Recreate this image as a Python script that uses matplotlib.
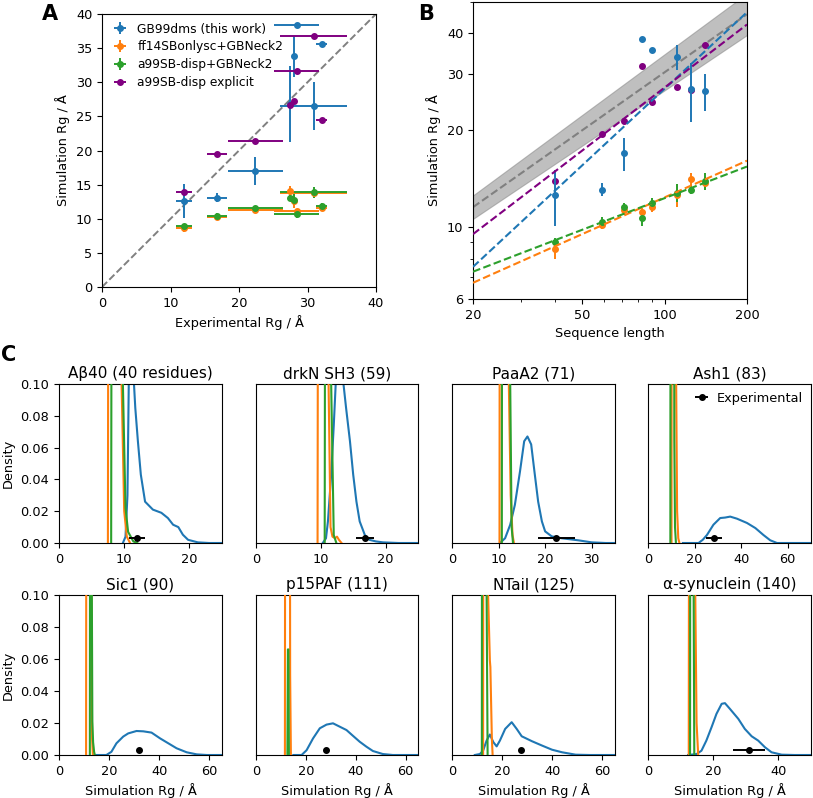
import numpy as np
import matplotlib
matplotlib.use("Agg")
import matplotlib.pyplot as plt
from matplotlib.ticker import NullFormatter, FixedLocator, ScalarFormatter, MultipleLocator

plt.rcParams['font.family'] = ['DejaVu Sans']
plt.rcParams['font.size'] = 9.3
plt.rcParams['axes.titlesize'] = 11

# ---------------- data ----------------
series_labels = ["GB99dms (this work)", "ff14SBonlysc+GBNeck2",
                 "a99SB-disp+GBNeck2", "a99SB-disp explicit"]
series_colors = ["#1f77b4", "#ff7f0e", "#2ca02c", "purple"]

proteins = ["Aβ40 (40 residues)", "drkN SH3 (59)", "PaaA2 (71)", "Ash1 (83)",
            "Sic1 (90)", "p15PAF (111)", "NTail (125)", "α-synuclein (140)"]
seq_len = [40, 59, 71, 83, 90, 111, 125, 140]
exp_rg = [12.0, 16.8, 22.4, 28.4, 32.1, 28.0, 27.5, 30.9]
exp_err = [1.2, 1.4, 4.0, 3.3, 0.8, 0.0, 0.0, 4.9]

gb99_rg = [12.6, 13.1, 17.0, 38.4, 35.6, 33.8, 26.8, 26.5]
gb99_err = [2.5, 0.6, 2.0, 0.3, 0.3, 3.0, 5.6, 3.5]
ff14_rg = [8.6, 10.2, 11.3, 11.2, 11.6, 12.6, 14.1, 13.7]
ff14_err = [0.6, 0.3, 0.4, 0.3, 0.4, 1.0, 0.7, 0.6]
a99_rg = [9.0, 10.4, 11.6, 10.7, 11.9, 12.8, 13.1, 13.9]
a99_err = [0.3, 0.4, 0.3, 0.6, 0.4, 0.8, 0.4, 0.8]
explicit_rg = [13.9, 19.5, 21.4, 31.7, 24.4, 27.2, 26.7, 36.8]

# power-law fits Rg = R0 * N**nu
fit_R0 = [0.709, 2.167, 2.746, 1.36]
fit_nu = [0.7895, 0.3786, 0.326, 0.650]
flory_R0 = 1.927
flory_nu = 0.598
flory_nu_err = 0.028

# ---- panel C densities (x in Å, density) ----
xlims_c = [25, 25, 35, 70, 65, 65, 65, 50]
exp_marker_y = 0.003

blue_x = [
    [9.8, 10.2, 10.5, 10.7, 11.1, 11.5, 11.7, 12.1, 12.55, 13.2, 14.4, 15.7, 16.7, 17.5, 18.3, 19.0, 19.8, 21.3, 23.0, 25.0],
    [10.3, 10.8, 11.1, 11.6, 12.0, 12.3, 12.9, 13.5, 13.9, 14.5, 15.0, 15.5, 16.0, 16.8, 17.5, 18.5, 19.6, 22.0, 25.0],
    [10.3, 11.4, 12.5, 13.5, 14.6, 15.5, 16.2, 17.0, 17.7, 18.5, 19.3, 20.0, 21.4, 23.5, 27.1, 30.0, 33.0, 35.0],
    [15.0, 21.7, 23.5, 25.3, 28.1, 31.0, 33.1, 35.3, 38.2, 42.5, 46.1, 49.6, 52.5, 55.4, 60.0, 70.0],
    [14.0, 18.9, 20.9, 22.9, 25.6, 27.6, 30.9, 33.6, 36.9, 40.3, 43.6, 46.9, 50.9, 54.9, 58.9, 65.0],
    [15.0, 18.3, 20.3, 22.9, 25.6, 28.3, 30.9, 33.6, 36.3, 38.9, 41.6, 44.3, 46.9, 50.9, 54.9, 65.0],
    [9.1, 11.1, 12.4, 13.8, 15.1, 16.5, 17.8, 19.1, 21.2, 23.8, 25.8, 27.8, 31.9, 35.9, 39.9, 43.9, 49.3, 55.0, 65.0],
    [12.3, 14.9, 16.4, 17.9, 19.5, 21.0, 22.6, 23.6, 25.1, 27.7, 29.7, 31.8, 33.8, 35.9, 37.9, 41.0, 45.0, 50.0],
]
blue_y = [
    [0, 0.004, 0.03, 0.1, 0.3, 0.1, 0.085, 0.064, 0.043, 0.026, 0.021, 0.019, 0.0157, 0.0115, 0.0100, 0.0052, 0.002, 0.0004, 0, 0],
    [0, 0.003, 0.0136, 0.043, 0.074, 0.1, 0.25, 0.1, 0.085, 0.064, 0.043, 0.026, 0.0136, 0.005, 0.002, 0.001, 0.0004, 0, 0],
    [0, 0.003, 0.0115, 0.024, 0.045, 0.064, 0.067, 0.062, 0.045, 0.026, 0.0136, 0.0073, 0.0042, 0.003, 0.0017, 0.0004, 0, 0],
    [0, 0, 0.002, 0.005, 0.0115, 0.0157, 0.016, 0.0166, 0.0153, 0.0126, 0.0094, 0.005, 0.0017, 0, 0, 0],
    [0, 0, 0.002, 0.0073, 0.0115, 0.0135, 0.015, 0.0148, 0.014, 0.0104, 0.0073, 0.0042, 0.0017, 0.0004, 0, 0],
    [0, 0, 0.003, 0.0104, 0.0167, 0.019, 0.0198, 0.0177, 0.0156, 0.012, 0.0083, 0.0052, 0.0025, 0.0006, 0, 0],
    [0, 0.0006, 0.0027, 0.009, 0.0128, 0.008, 0.0054, 0.009, 0.0163, 0.0205, 0.0163, 0.0117, 0.0086, 0.0059, 0.0033, 0.0017, 0.0002, 0, 0],
    [0, 0.0006, 0.0027, 0.009, 0.0174, 0.0257, 0.032, 0.0324, 0.0289, 0.0226, 0.0163, 0.0117, 0.009, 0.0048, 0.0017, 0.0002, 0, 0],
]
orange_x = [
    [7.5, 7.7, 7.9, 9.3, 9.6, 10.0, 10.4, 10.9],
    [9.5, 9.7, 9.9, 10.9, 11.2, 11.5, 11.8, 12.2, 12.5, 12.8, 13.2],
    [10.2, 10.35, 10.5, 11.9, 12.2, 12.6, 13.0, 13.3],
    [10.1, 10.3, 10.6, 11.8, 12.1, 12.5, 13.0, 13.5],
    [10.8, 11.1, 11.3, 12.6, 12.9, 13.2, 13.5],
    [11.6, 11.9, 12.1, 13.4, 13.7, 14.0],
    [12.4, 12.7, 12.9, 14.0, 14.4, 15.1, 15.3, 15.5, 15.9, 16.2],
    [12.5, 12.8, 13.1, 14.2, 14.5, 14.9, 15.4],
]
orange_y = [
    [0, 0.6, 0.6, 0.6, 0.1, 0.02, 0.004, 0],
    [0, 0.6, 0.6, 0.5, 0.1, 0.01, 0.004, 0.003, 0.004, 0.002, 0],
    [0, 0.6, 0.6, 0.5, 0.1, 0.03, 0.005, 0],
    [0, 0.6, 0.6, 0.5, 0.1, 0.02, 0.003, 0],
    [0, 0.6, 0.6, 0.5, 0.1, 0.01, 0],
    [0, 0.6, 0.6, 0.5, 0.05, 0],
    [0, 0.6, 0.6, 0.5, 0.1, 0.059, 0.055, 0.04, 0.01, 0],
    [0, 0.6, 0.6, 0.5, 0.1, 0.02, 0],
]
green_x = [
    [8.0, 8.2, 8.4, 9.5, 9.8, 10.2, 10.6, 11.4, 12.0],
    [10.6, 10.8, 11.0, 11.3, 11.6, 12.0, 12.4],
    [10.7, 10.85, 11.0, 12.3, 12.5, 12.8, 13.1],
    [9.6, 9.8, 10.0, 11.0, 11.3, 11.6, 12.0],
    [12.3, 12.6, 12.9, 13.1, 13.3, 13.6, 14.0, 14.3],
    [12.6, 12.8, 13.0, 13.2],
    [11.9, 12.1, 12.3, 13.5, 13.8, 14.2],
    [12.9, 13.1, 13.3, 13.8, 14.0, 14.2],
]
green_y = [
    [0, 0.6, 0.6, 0.5, 0.1, 0.022, 0.007, 0.001, 0],
    [0, 0.6, 0.6, 0.4, 0.1, 0.005, 0],
    [0, 0.6, 0.6, 0.5, 0.1, 0.01, 0],
    [0, 0.6, 0.6, 0.5, 0.065, 0.01, 0],
    [0, 0.6, 0.6, 0.1, 0.021, 0.008, 0.002, 0],
    [0, 0.066, 0.066, 0],
    [0, 0.6, 0.6, 0.5, 0.1, 0],
    [0, 0.6, 0.6, 0.5, 0.1, 0],
]

# ---------------- figure ----------------
W, H = 813, 798
fig = plt.figure(figsize=(W / 100, H / 100), dpi=100)


def box(l, t, r, b):
    return [l / W, 1 - b / H, (r - l) / W, (b - t) / H]


ms = 4
elw = 1.4

# ---- Panel A ----
axA = fig.add_axes(box(102, 14, 376, 287))
axA.plot([0, 40], [0, 40], '--', color='gray', lw=1.4, zorder=1)
sim_sets = [(gb99_rg, gb99_err), (ff14_rg, ff14_err), (a99_rg, a99_err), (explicit_rg, None)]
xerr_arr = np.array(exp_err)
for (vals, err), lab, col in zip(sim_sets, series_labels, series_colors):
    axA.errorbar(exp_rg, vals, xerr=xerr_arr, yerr=err, fmt='o', color=col,
                 ms=ms, elinewidth=elw, label=lab, zorder=3)
axA.set_xlim(0, 40)
axA.set_ylim(0, 40)
axA.xaxis.set_major_locator(MultipleLocator(10))
axA.yaxis.set_major_locator(MultipleLocator(5))
axA.set_xlabel("Experimental Rg / Å")
axA.set_ylabel("Simulation Rg / Å")
axA.legend(loc='upper left', frameon=False, handlelength=1.6, fontsize=8.8,
           borderaxespad=0.3, labelspacing=0.4, handletextpad=0.6)

# ---- Panel B ----
axB = fig.add_axes(box(473, 2, 747, 299))
axB.set_xscale('log')
axB.set_yscale('log')
n = np.geomspace(20, 200, 200)
axB.fill_between(n, flory_R0 * n ** (flory_nu - flory_nu_err),
                 flory_R0 * n ** (flory_nu + flory_nu_err),
                 color='gray', alpha=0.5, lw=0.8, zorder=1)
axB.plot(n, flory_R0 * n ** flory_nu, '--', color='gray', lw=1.5, zorder=2)
axB.plot(seq_len, explicit_rg, 'o', color='purple', ms=ms, zorder=3)
for (vals, err), col in zip(sim_sets[:3], series_colors[:3]):
    axB.errorbar(seq_len, vals, yerr=err, fmt='o', color=col, ms=ms,
                 elinewidth=elw, zorder=4)
for R0, nu, col in zip(fit_R0, fit_nu, series_colors):
    axB.plot(n, R0 * n ** nu, '--', color=col, lw=1.5, zorder=5)
axB.set_xlim(20, 200)
axB.set_ylim(6, 50)
axB.xaxis.set_major_locator(FixedLocator([20, 50, 100, 200]))
axB.xaxis.set_major_formatter(ScalarFormatter())
axB.xaxis.set_minor_formatter(NullFormatter())
axB.yaxis.set_major_locator(FixedLocator([6, 10, 20, 30, 40]))
axB.yaxis.set_major_formatter(ScalarFormatter())
axB.yaxis.set_minor_formatter(NullFormatter())
axB.set_xlabel("Sequence length")
axB.set_ylabel("Simulation Rg / Å")

# ---- Panel C ----
c_left = [59, 256, 452, 648]
c_right = [222, 418, 615, 811]
rows = [(384, 543), (595, 755)]
for i, name in enumerate(proteins):
    r, c = divmod(i, 4)
    ax = fig.add_axes(box(c_left[c], rows[r][0], c_right[c], rows[r][1]))
    ax.plot(blue_x[i], blue_y[i], color=series_colors[0], lw=1.5, zorder=2)
    ax.plot(orange_x[i], orange_y[i], color=series_colors[1], lw=1.5, zorder=3)
    ax.plot(green_x[i], green_y[i], color=series_colors[2], lw=1.5, zorder=4)
    ax.errorbar([exp_rg[i]], [exp_marker_y], xerr=[exp_err[i]], fmt='o',
                color='black', ms=ms, elinewidth=elw, label='Experimental', zorder=5)
    ax.set_xlim(0, xlims_c[i])
    ax.set_ylim(0, 0.1)
    ax.set_title(name, pad=4)
    ax.yaxis.set_major_locator(MultipleLocator(0.02))
    if c == 0:
        ax.set_ylabel("Density")
    else:
        ax.set_yticks([])
    if r == 1:
        ax.set_xlabel("Simulation Rg / Å")
    if i == 3:
        ax.legend(loc='upper right', frameon=False, handlelength=1.4,
                  borderaxespad=0.2, handletextpad=0.5)

# ---- panel labels ----
fig.text(42 / W, 1 - 4 / H, "A", fontsize=15, fontweight='bold', va='top', ha='left')
fig.text(418 / W, 1 - 4 / H, "B", fontsize=15, fontweight='bold', va='top', ha='left')
fig.text(1 / W, 1 - 345 / H, "C", fontsize=15, fontweight='bold', va='top', ha='left')

fig.savefig("out.png", dpi=100)
